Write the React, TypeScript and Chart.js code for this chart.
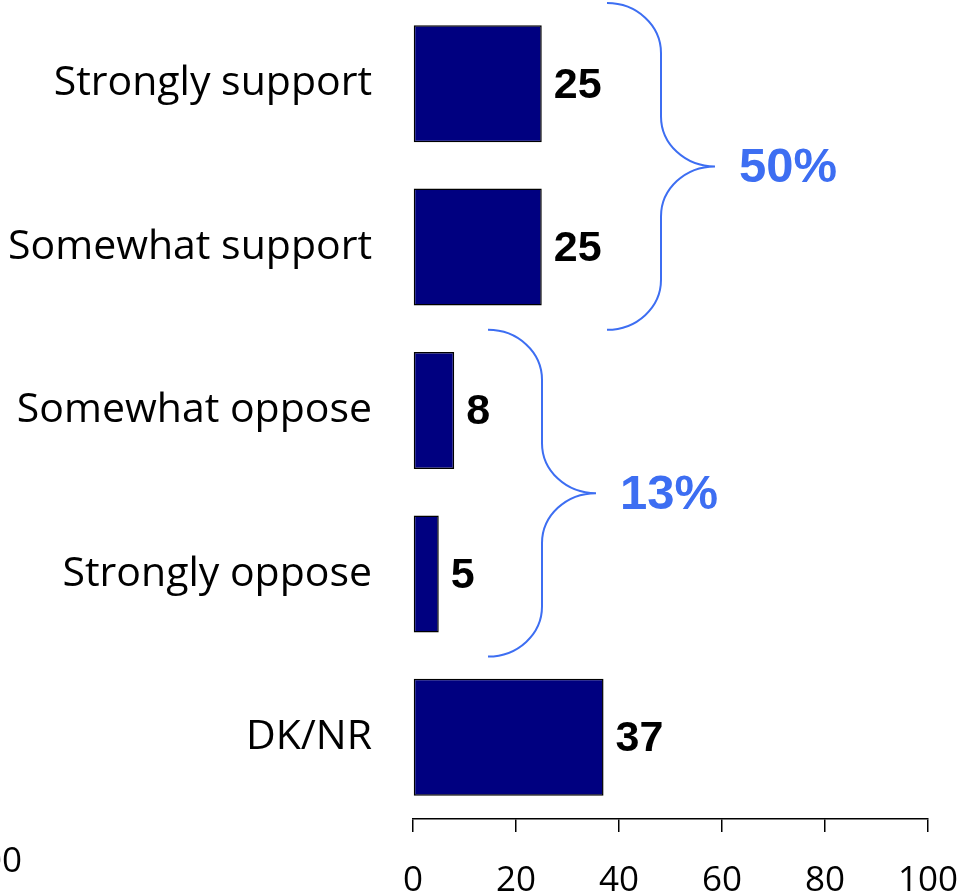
import React, { useEffect, useRef } from "react";
import { Chart, registerables } from "chart.js";

Chart.register(...registerables);

const categories = ["Strongly support", "Somewhat support", "Somewhat oppose", "Strongly oppose", "DK/NR"];
const values = [25, 25, 8, 5, 37];
const xTicks = [0, 20, 40, 60, 80, 100];
const braceGroups = [[0, 1], [2, 3]];
const strayLabel = "100";

const BAR_FILL = "#000080";
const BLUE = "#3d6ef2";
const LABEL_FONT = "'Open Sans', 'Noto Sans', sans-serif";
const BOLD_FONT = "'Liberation Sans', Arial, sans-serif";

const overlayPlugin = {
  id: "overlay",
  afterDatasetsDraw(chart: any) {
    const ctx = chart.ctx;
    const meta = chart.getDatasetMeta(0);
    const data = chart.data.datasets[0].data as number[];
    ctx.save();
    ctx.fillStyle = "#000";
    ctx.font = `bold 43px ${BOLD_FONT}`;
    ctx.textAlign = "left";
    ctx.textBaseline = "middle";
    meta.data.forEach((bar: any, i: number) => {
      ctx.fillText(String(data[i]), bar.x + 12, bar.y + 2);
    });
    const yScale = chart.scales.y;
    const braceStarts = [607, 488];
    const r = 54;
    braceGroups.forEach((grp, gi) => {
      const top = yScale.getPixelForValue(grp[0] - 0.5) + 1;
      const bottom = yScale.getPixelForValue(grp[grp.length - 1] + 0.5) + 1;
      const mid = (top + bottom) / 2;
      const x0 = braceStarts[gi];
      const k = 0.5523;
      const ry = 50;
      ctx.strokeStyle = BLUE;
      ctx.lineWidth = 2;
      ctx.beginPath();
      ctx.moveTo(x0, top);
      ctx.bezierCurveTo(x0 + r * k, top, x0 + r, top + ry * (1 - k), x0 + r, top + ry);
      ctx.lineTo(x0 + r, mid - ry);
      ctx.bezierCurveTo(x0 + r, mid - ry * (1 - k), x0 + r + r * (1 - k), mid, x0 + 2 * r, mid);
      ctx.bezierCurveTo(x0 + r + r * (1 - k), mid, x0 + r, mid + ry * (1 - k), x0 + r, mid + ry);
      ctx.lineTo(x0 + r, bottom - ry);
      ctx.bezierCurveTo(x0 + r, bottom - ry * (1 - k), x0 + r * k, bottom, x0, bottom);
      ctx.stroke();
      const total = grp.reduce((s, idx) => s + data[idx], 0);
      ctx.fillStyle = BLUE;
      ctx.font = `bold 49px ${BOLD_FONT}`;
      ctx.textAlign = "left";
      ctx.textBaseline = "middle";
      ctx.fillText(`${total}%`, x0 + 2 * r + 24, mid + 2);
    });
    ctx.fillStyle = "#000";
    ctx.font = `35px ${LABEL_FONT}`;
    ctx.textAlign = "right";
    ctx.textBaseline = "middle";
    ctx.fillText(strayLabel, 22, 862);
    ctx.restore();
  },
};

export default function App() {
  const ref = useRef<HTMLCanvasElement>(null);
  useEffect(() => {
    const chart = new Chart(ref.current!, {
      type: "bar",
      data: {
        labels: categories,
        datasets: [
          {
            data: values,
            backgroundColor: BAR_FILL,
            borderColor: "#000",
            borderWidth: 1.5,
            borderSkipped: false,
            categoryPercentage: 0.716,
            barPercentage: 1,
          },
        ],
      },
      options: {
        indexAxis: "y",
        animation: false,
        responsive: false,
        maintainAspectRatio: false,
        layout: { padding: { left: 0, right: 33, top: 2, bottom: 0 } },
        plugins: { legend: { display: false }, tooltip: { enabled: false } },
        scales: {
          x: {
            min: 0,
            max: 100,
            afterBuildTicks: (s: any) => {
              s.ticks = xTicks.map((v) => ({ value: v }));
            },
            afterFit: (s: any) => {
              s.height = 75;
              s.paddingLeft = 0;
              s.paddingRight = 0;
              s.paddingTop = 0;
              s.paddingBottom = 0;
            },
            grid: { display: true, drawOnChartArea: false, drawTicks: true, tickLength: 13, color: "#000", lineWidth: 1.5 },
            border: { display: true, color: "#000", width: 1.5 },
            ticks: { color: "#000", font: { family: LABEL_FONT, size: 35 }, padding: 28, maxRotation: 0, autoSkip: false },
          },
          y: {
            afterFit: (s: any) => {
              s.width = 413;
              s.paddingTop = 0;
              s.paddingBottom = 0;
              s.paddingLeft = 0;
              s.paddingRight = 0;
            },
            grid: { display: false, drawTicks: false },
            border: { display: false },
            ticks: { color: "#000", font: { family: LABEL_FONT, size: 41 }, padding: 41 },
          },
        },
      },
      plugins: [overlayPlugin],
    });
    return () => chart.destroy();
  }, []);
  return (
    <div style={{ position: "absolute", left: 0, top: 0, width: 961, height: 894, background: "#fff" }}>
      <canvas ref={ref} width={961} height={894} style={{ width: 961, height: 894 }} />
    </div>
  );
}
